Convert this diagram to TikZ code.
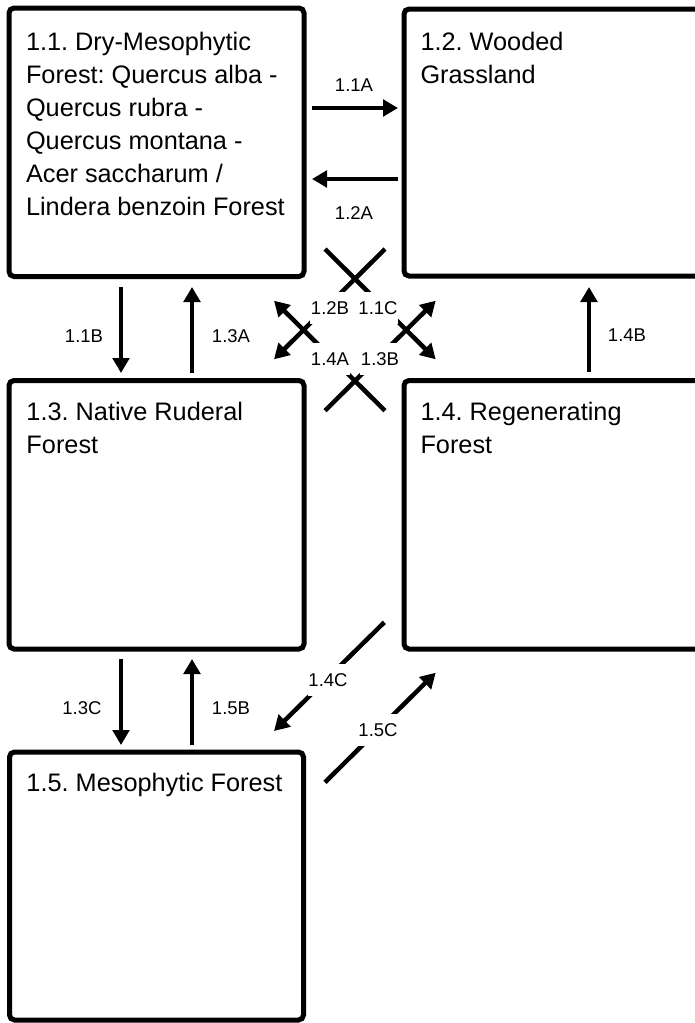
\documentclass[tikz,border=0pt]{standalone}
\usepackage{fontspec}
\setmainfont{Liberation Sans}
\usetikzlibrary{arrows.meta}
\frenchspacing
\begin{document}
\begin{tikzpicture}[x=1pt,y=-1pt,
  box/.style={draw, line width=5pt, rounded corners=5pt, inner sep=0pt, outer sep=0pt, anchor=north west},
  boxtext/.style={anchor=base west, inner sep=0pt, outer sep=0pt},
  arr/.style={line width=4.5pt, -{Triangle[length=15pt,width=16.5pt]}},
  lab/.style={font=\fontsize{18.5pt}{22pt}\selectfont, inner sep=0pt},
  gaplab/.style={lab, fill=white, minimum width=40pt, minimum height=32pt}]
\clip (0,0) rectangle (695,1023);
\fill[white] (0,0) rectangle (695,1023);
% boxes
\node[box, minimum width=295pt, minimum height=268.5pt] (b11) at (9,8) {};
\node[box, minimum width=320pt, minimum height=267pt] (b12) at (404,9) {};
\node[box, minimum width=295pt, minimum height=268.5pt] (b13) at (9,380.5) {};
\node[box, minimum width=320pt, minimum height=268.5pt] (b14) at (404,380.5) {};
\node[box, minimum width=294pt, minimum height=268pt] (b15) at (9.5,752) {};
% box texts
\newcommand{\boxpar}[1]{\parbox[t]{290pt}{\fontsize{25.3pt}{33pt}\selectfont\raggedright #1}}
\node[boxtext] (t11) at (26,50) {\boxpar{1.1. Dry-Mesophytic\\Forest: Quercus alba -\\Quercus rubra -\\Quercus montana -\\Acer saccharum /\\Lindera benzoin Forest}};
\node[boxtext] (t12) at (420.5,50) {\boxpar{1.2. Wooded\\Grassland}};
\node[boxtext] (t13) at (26.5,420.5) {\boxpar{1.3. Native Ruderal\\Forest}};
\node[boxtext] (t14) at (420.5,420.5) {\boxpar{1.4. Regenerating\\Forest}};
\node[boxtext] (t15) at (26.5,791) {\boxpar{1.5. Mesophytic Forest}};
% coordinates for straight arrows
\coordinate (a11As) at (312,108);   \coordinate (a11Ae) at (398,108);
\coordinate (a12As) at (398,179);   \coordinate (a12Ae) at (312,179);
\coordinate (a11Bs) at (121,287);   \coordinate (a11Be) at (121,373);
\coordinate (a13As) at (192,373);   \coordinate (a13Ae) at (192,287);
\coordinate (a14Bs) at (589,372);   \coordinate (a14Be) at (589,287);
\coordinate (a13Cs) at (121,659);   \coordinate (a13Ce) at (121,745);
\coordinate (a15Bs) at (192,745);   \coordinate (a15Be) at (192,659);
% coordinates for diagonal arrows
\coordinate (a11Cs) at (325,249);    \coordinate (a11Ce) at (435.7,359.3);
\coordinate (a12Bs) at (385,249);    \coordinate (a12Be) at (274,359.3);
\coordinate (a14As) at (385,410.7);  \coordinate (a14Ae) at (274,300.7);
\coordinate (a13Bs) at (325,410.7);  \coordinate (a13Be) at (435.7,300.7);
\coordinate (a14Cs) at (384.3,622.3);\coordinate (a14Ce) at (274,731);
\coordinate (a15Cs) at (325,782.3);  \coordinate (a15Ce) at (435.7,672.7);
% straight arrows
\draw[arr] (a11As) -- (a11Ae);
\draw[arr] (a12As) -- (a12Ae);
\draw[arr] (a11Bs) -- (a11Be);
\draw[arr] (a13As) -- (a13Ae);
\draw[arr] (a14Bs) -- (a14Be);
\draw[arr] (a13Cs) -- (a13Ce);
\draw[arr] (a15Bs) -- (a15Be);
% diagonal arrows
\draw[arr] (a11Cs) -- (a11Ce);
\draw[arr] (a12Bs) -- (a12Be);
\draw[arr] (a14As) -- (a14Ae);
\draw[arr] (a13Bs) -- (a13Be);
\draw[arr] (a14Cs) -- (a14Ce);
\draw[arr] (a15Cs) -- (a15Ce);
% labels
\node[lab] (l11A) at (354,85) {1.1A};
\node[lab] (l12A) at (354,213) {1.2A};
\node[lab] (l11B) at (84,336) {1.1B};
\node[lab] (l13A) at (231,336) {1.3A};
\node[lab] (l14B) at (627,335) {1.4B};
\node[lab] (l13C) at (82,708) {1.3C};
\node[lab] (l15B) at (231,708) {1.5B};
\node[gaplab] (l11C) at (378,308) {1.1C};
\node[gaplab] (l12B) at (330,308) {1.2B};
\node[gaplab] (l14A) at (330,359) {1.4A};
\node[gaplab] (l13B) at (380,359) {1.3B};
\node[gaplab] (l14C) at (328,680) {1.4C};
\node[gaplab] (l15C) at (378,730) {1.5C};
\end{tikzpicture}
\end{document}
